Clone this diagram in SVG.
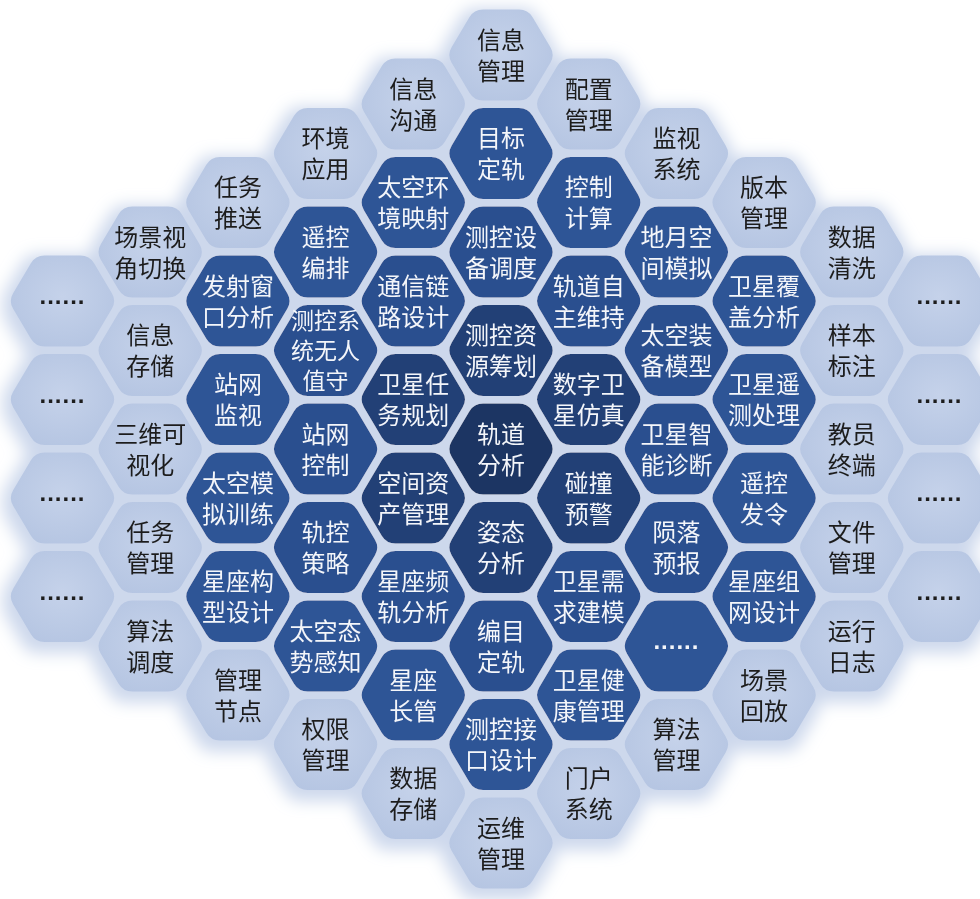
<svg xmlns="http://www.w3.org/2000/svg" xmlns:xlink="http://www.w3.org/1999/xlink" width="980" height="899" viewBox="0 0 980 899">
<style>
.l{fill:url(#gl)}
.d1{fill:#2e5496}
.d2{fill:#2b4f8f}
.d3{fill:#213f76}
.d4{fill:#1d3563}
text{font-family:"Noto Sans CJK SC","Microsoft YaHei",sans-serif;font-size:24px;text-anchor:middle}
.k{fill:#1e1e1e}
.w{fill:#f4f6fa}
.s{font-size:23px}
.dot{font-family:"Liberation Sans",sans-serif;font-weight:bold;font-size:24px;letter-spacing:1px}
</style>
<defs>
<path id="hx" d="M49.4,-7.7Q54,0 49.4,7.7L31.6,37.8Q27,45.5 18,45.5L-18,45.5Q-27,45.5 -31.6,37.8L-49.4,7.7Q-54,0 -49.4,-7.7L-31.6,-37.8Q-27,-45.5 -18,-45.5L18,-45.5Q27,-45.5 31.6,-37.8Z"/>
<radialGradient id="gl" cx="0.5" cy="0.45" r="0.6">
<stop offset="0" stop-color="#c5d2ea"/>
<stop offset="1" stop-color="#b5c5e2"/>
</radialGradient>
<filter id="halo" filterUnits="userSpaceOnUse" x="-30" y="-30" width="1040" height="960">
<feMorphology in="SourceAlpha" operator="dilate" radius="6" result="d"/>
<feGaussianBlur in="d" stdDeviation="8" result="b"/>
<feOffset in="b" dx="-2" dy="5" result="o"/>
<feFlood flood-color="#cdd8ec" result="f"/>
<feComposite in="f" in2="o" operator="in" result="s"/>
<feMerge><feMergeNode in="s"/><feMergeNode in="SourceGraphic"/></feMerge>
</filter>
</defs>
<rect width="980" height="899" fill="#ffffff"/>
<g id="nodes" filter="url(#halo)">
<!-- column A -->
<g id="a1"><use href="#hx" x="62.5" y="301" class="l"/><text class="dot k" x="62.5" y="304">......</text></g>
<g id="a2"><use href="#hx" x="62.5" y="399.5" class="l"/><text class="dot k" x="62.5" y="402.5">......</text></g>
<g id="a3"><use href="#hx" x="62.5" y="498" class="l"/><text class="dot k" x="62.5" y="501">......</text></g>
<g id="a4"><use href="#hx" x="62.5" y="596.5" class="l"/><text class="dot k" x="62.5" y="599.5">......</text></g>
<!-- column B -->
<g id="b1"><use href="#hx" x="150.2" y="252" class="l"/><text class="k"><tspan x="150.2" y="245.5">场景视</tspan><tspan x="150.2" y="276.5">角切换</tspan></text></g>
<g id="b2"><use href="#hx" x="150.2" y="350.5" class="l"/><text class="k"><tspan x="150.2" y="344">信息</tspan><tspan x="150.2" y="375">存储</tspan></text></g>
<g id="b3"><use href="#hx" x="150.2" y="449" class="l"/><text class="k"><tspan x="150.2" y="442.5">三维可</tspan><tspan x="150.2" y="473.5">视化</tspan></text></g>
<g id="b4"><use href="#hx" x="150.2" y="547.5" class="l"/><text class="k"><tspan x="150.2" y="541">任务</tspan><tspan x="150.2" y="572">管理</tspan></text></g>
<g id="b5"><use href="#hx" x="150.2" y="646" class="l"/><text class="k"><tspan x="150.2" y="639.5">算法</tspan><tspan x="150.2" y="670.5">调度</tspan></text></g>
<!-- column C -->
<g id="c1"><use href="#hx" x="237.9" y="202.5" class="l"/><text class="k"><tspan x="237.9" y="196">任务</tspan><tspan x="237.9" y="227">推送</tspan></text></g>
<g id="c2"><use href="#hx" x="237.9" y="301" class="d1"/><text class="w"><tspan x="237.9" y="294.5">发射窗</tspan><tspan x="237.9" y="325.5">口分析</tspan></text></g>
<g id="c3"><use href="#hx" x="237.9" y="399.5" class="d1"/><text class="w"><tspan x="237.9" y="393">站网</tspan><tspan x="237.9" y="424">监视</tspan></text></g>
<g id="c4"><use href="#hx" x="237.9" y="498" class="d1"/><text class="w"><tspan x="237.9" y="491.5">太空模</tspan><tspan x="237.9" y="522.5">拟训练</tspan></text></g>
<g id="c5"><use href="#hx" x="237.9" y="596.5" class="d1"/><text class="w"><tspan x="237.9" y="590">星座构</tspan><tspan x="237.9" y="621">型设计</tspan></text></g>
<g id="c6"><use href="#hx" x="237.9" y="695" class="l"/><text class="k"><tspan x="237.9" y="688.5">管理</tspan><tspan x="237.9" y="719.5">节点</tspan></text></g>
<!-- column D -->
<g id="d1"><use href="#hx" x="325.6" y="153.5" class="l"/><text class="k"><tspan x="325.6" y="147">环境</tspan><tspan x="325.6" y="178">应用</tspan></text></g>
<g id="d2"><use href="#hx" x="325.6" y="252" class="d1"/><text class="w"><tspan x="325.6" y="245.5">遥控</tspan><tspan x="325.6" y="276.5">编排</tspan></text></g>
<g id="d3"><use href="#hx" x="325.6" y="350.5" class="d2"/><text class="w s"><tspan x="325.6" y="329">测控系</tspan><tspan x="325.6" y="359">统无人</tspan><tspan x="325.6" y="389">值守</tspan></text></g>
<g id="d4"><use href="#hx" x="325.6" y="449" class="d2"/><text class="w"><tspan x="325.6" y="442.5">站网</tspan><tspan x="325.6" y="473.5">控制</tspan></text></g>
<g id="d5"><use href="#hx" x="325.6" y="547.5" class="d2"/><text class="w"><tspan x="325.6" y="541">轨控</tspan><tspan x="325.6" y="572">策略</tspan></text></g>
<g id="d6"><use href="#hx" x="325.6" y="646" class="d1"/><text class="w"><tspan x="325.6" y="639.5">太空态</tspan><tspan x="325.6" y="670.5">势感知</tspan></text></g>
<g id="d7"><use href="#hx" x="325.6" y="744.5" class="l"/><text class="k"><tspan x="325.6" y="738">权限</tspan><tspan x="325.6" y="769">管理</tspan></text></g>
<!-- column E -->
<g id="e1"><use href="#hx" x="413.3" y="104" class="l"/><text class="k"><tspan x="413.3" y="97.5">信息</tspan><tspan x="413.3" y="128.5">沟通</tspan></text></g>
<g id="e2"><use href="#hx" x="413.3" y="202.5" class="d1"/><text class="w"><tspan x="413.3" y="196">太空环</tspan><tspan x="413.3" y="227">境映射</tspan></text></g>
<g id="e3"><use href="#hx" x="413.3" y="301" class="d2"/><text class="w"><tspan x="413.3" y="294.5">通信链</tspan><tspan x="413.3" y="325.5">路设计</tspan></text></g>
<g id="e4"><use href="#hx" x="413.3" y="399.5" class="d3"/><text class="w"><tspan x="413.3" y="393">卫星任</tspan><tspan x="413.3" y="424">务规划</tspan></text></g>
<g id="e5"><use href="#hx" x="413.3" y="498" class="d3"/><text class="w"><tspan x="413.3" y="491.5">空间资</tspan><tspan x="413.3" y="522.5">产管理</tspan></text></g>
<g id="e6"><use href="#hx" x="413.3" y="596.5" class="d2"/><text class="w"><tspan x="413.3" y="590">星座频</tspan><tspan x="413.3" y="621">轨分析</tspan></text></g>
<g id="e7"><use href="#hx" x="413.3" y="695" class="d1"/><text class="w"><tspan x="413.3" y="688.5">星座</tspan><tspan x="413.3" y="719.5">长管</tspan></text></g>
<g id="e8"><use href="#hx" x="413.3" y="793.5" class="l"/><text class="k"><tspan x="413.3" y="787">数据</tspan><tspan x="413.3" y="818">存储</tspan></text></g>
<!-- column F -->
<g id="f1"><use href="#hx" x="501" y="55" class="l"/><text class="k"><tspan x="501" y="48.5">信息</tspan><tspan x="501" y="79.5">管理</tspan></text></g>
<g id="f2"><use href="#hx" x="501" y="153.5" class="d1"/><text class="w"><tspan x="501" y="147">目标</tspan><tspan x="501" y="178">定轨</tspan></text></g>
<g id="f3"><use href="#hx" x="501" y="252" class="d2"/><text class="w"><tspan x="501" y="245.5">测控设</tspan><tspan x="501" y="276.5">备调度</tspan></text></g>
<g id="f4"><use href="#hx" x="501" y="350.5" class="d3"/><text class="w"><tspan x="501" y="344">测控资</tspan><tspan x="501" y="375">源筹划</tspan></text></g>
<g id="f5"><use href="#hx" x="501" y="449" class="d4"/><text class="w"><tspan x="501" y="442.5">轨道</tspan><tspan x="501" y="473.5">分析</tspan></text></g>
<g id="f6"><use href="#hx" x="501" y="547.5" class="d3"/><text class="w"><tspan x="501" y="541">姿态</tspan><tspan x="501" y="572">分析</tspan></text></g>
<g id="f7"><use href="#hx" x="501" y="646" class="d2"/><text class="w"><tspan x="501" y="639.5">编目</tspan><tspan x="501" y="670.5">定轨</tspan></text></g>
<g id="f8"><use href="#hx" x="501" y="744.5" class="d1"/><text class="w"><tspan x="501" y="738">测控接</tspan><tspan x="501" y="769">口设计</tspan></text></g>
<g id="f9"><use href="#hx" x="501" y="843" class="l"/><text class="k"><tspan x="501" y="836.5">运维</tspan><tspan x="501" y="867.5">管理</tspan></text></g>
<!-- column G -->
<g id="g1"><use href="#hx" x="588.7" y="104" class="l"/><text class="k"><tspan x="588.7" y="97.5">配置</tspan><tspan x="588.7" y="128.5">管理</tspan></text></g>
<g id="g2"><use href="#hx" x="588.7" y="202.5" class="d1"/><text class="w"><tspan x="588.7" y="196">控制</tspan><tspan x="588.7" y="227">计算</tspan></text></g>
<g id="g3"><use href="#hx" x="588.7" y="301" class="d2"/><text class="w"><tspan x="588.7" y="294.5">轨道自</tspan><tspan x="588.7" y="325.5">主维持</tspan></text></g>
<g id="g4"><use href="#hx" x="588.7" y="399.5" class="d3"/><text class="w"><tspan x="588.7" y="393">数字卫</tspan><tspan x="588.7" y="424">星仿真</tspan></text></g>
<g id="g5"><use href="#hx" x="588.7" y="498" class="d3"/><text class="w"><tspan x="588.7" y="491.5">碰撞</tspan><tspan x="588.7" y="522.5">预警</tspan></text></g>
<g id="g6"><use href="#hx" x="588.7" y="596.5" class="d2"/><text class="w"><tspan x="588.7" y="590">卫星需</tspan><tspan x="588.7" y="621">求建模</tspan></text></g>
<g id="g7"><use href="#hx" x="588.7" y="695" class="d1"/><text class="w"><tspan x="588.7" y="688.5">卫星健</tspan><tspan x="588.7" y="719.5">康管理</tspan></text></g>
<g id="g8"><use href="#hx" x="588.7" y="793.5" class="l"/><text class="k"><tspan x="588.7" y="787">门户</tspan><tspan x="588.7" y="818">系统</tspan></text></g>
<!-- column H -->
<g id="h1"><use href="#hx" x="676.4" y="153.5" class="l"/><text class="k"><tspan x="676.4" y="147">监视</tspan><tspan x="676.4" y="178">系统</tspan></text></g>
<g id="h2"><use href="#hx" x="676.4" y="252" class="d1"/><text class="w"><tspan x="676.4" y="245.5">地月空</tspan><tspan x="676.4" y="276.5">间模拟</tspan></text></g>
<g id="h3"><use href="#hx" x="676.4" y="350.5" class="d2"/><text class="w"><tspan x="676.4" y="344">太空装</tspan><tspan x="676.4" y="375">备模型</tspan></text></g>
<g id="h4"><use href="#hx" x="676.4" y="449" class="d2"/><text class="w"><tspan x="676.4" y="442.5">卫星智</tspan><tspan x="676.4" y="473.5">能诊断</tspan></text></g>
<g id="h5"><use href="#hx" x="676.4" y="547.5" class="d2"/><text class="w"><tspan x="676.4" y="541">陨落</tspan><tspan x="676.4" y="572">预报</tspan></text></g>
<g id="h6"><use href="#hx" x="676.4" y="646" class="d1"/><text class="dot w" x="676.4" y="649">......</text></g>
<g id="h7"><use href="#hx" x="676.4" y="744.5" class="l"/><text class="k"><tspan x="676.4" y="738">算法</tspan><tspan x="676.4" y="769">管理</tspan></text></g>
<!-- column I -->
<g id="i1"><use href="#hx" x="764.1" y="202.5" class="l"/><text class="k"><tspan x="764.1" y="196">版本</tspan><tspan x="764.1" y="227">管理</tspan></text></g>
<g id="i2"><use href="#hx" x="764.1" y="301" class="d1"/><text class="w"><tspan x="764.1" y="294.5">卫星覆</tspan><tspan x="764.1" y="325.5">盖分析</tspan></text></g>
<g id="i3"><use href="#hx" x="764.1" y="399.5" class="d1"/><text class="w"><tspan x="764.1" y="393">卫星遥</tspan><tspan x="764.1" y="424">测处理</tspan></text></g>
<g id="i4"><use href="#hx" x="764.1" y="498" class="d1"/><text class="w"><tspan x="764.1" y="491.5">遥控</tspan><tspan x="764.1" y="522.5">发令</tspan></text></g>
<g id="i5"><use href="#hx" x="764.1" y="596.5" class="d1"/><text class="w"><tspan x="764.1" y="590">星座组</tspan><tspan x="764.1" y="621">网设计</tspan></text></g>
<g id="i6"><use href="#hx" x="764.1" y="695" class="l"/><text class="k"><tspan x="764.1" y="688.5">场景</tspan><tspan x="764.1" y="719.5">回放</tspan></text></g>
<!-- column J -->
<g id="j1"><use href="#hx" x="851.8" y="252" class="l"/><text class="k"><tspan x="851.8" y="245.5">数据</tspan><tspan x="851.8" y="276.5">清洗</tspan></text></g>
<g id="j2"><use href="#hx" x="851.8" y="350.5" class="l"/><text class="k"><tspan x="851.8" y="344">样本</tspan><tspan x="851.8" y="375">标注</tspan></text></g>
<g id="j3"><use href="#hx" x="851.8" y="449" class="l"/><text class="k"><tspan x="851.8" y="442.5">教员</tspan><tspan x="851.8" y="473.5">终端</tspan></text></g>
<g id="j4"><use href="#hx" x="851.8" y="547.5" class="l"/><text class="k"><tspan x="851.8" y="541">文件</tspan><tspan x="851.8" y="572">管理</tspan></text></g>
<g id="j5"><use href="#hx" x="851.8" y="646" class="l"/><text class="k"><tspan x="851.8" y="639.5">运行</tspan><tspan x="851.8" y="670.5">日志</tspan></text></g>
<!-- column K -->
<g id="k1"><use href="#hx" x="939.5" y="301" class="l"/><text class="dot k" x="939.5" y="304">......</text></g>
<g id="k2"><use href="#hx" x="939.5" y="399.5" class="l"/><text class="dot k" x="939.5" y="402.5">......</text></g>
<g id="k3"><use href="#hx" x="939.5" y="498" class="l"/><text class="dot k" x="939.5" y="501">......</text></g>
<g id="k4"><use href="#hx" x="939.5" y="596.5" class="l"/><text class="dot k" x="939.5" y="599.5">......</text></g>
</g>
</svg>
